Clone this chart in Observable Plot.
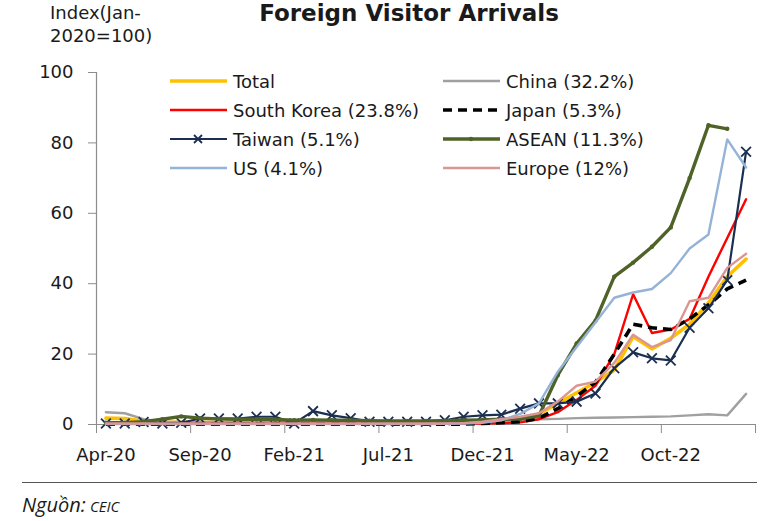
<!DOCTYPE html>
<html><head><meta charset="utf-8">
<script src="https://cdn.jsdelivr.net/npm/d3@7"></script>
<script src="https://cdn.jsdelivr.net/npm/@observablehq/plot@0.6"></script>
<style>
body{margin:0;background:#fff;}
#wrap{position:relative;width:765px;height:521px;overflow:hidden;font-family:"DejaVu Sans",sans-serif;color:#1a1a1a;background:#fff;}
#title{position:absolute;left:0;width:818px;top:0px;text-align:center;font-weight:bold;font-size:23px;line-height:26px;}
#ylab{position:absolute;left:50px;top:1px;font-size:18px;line-height:23px;}
#chart{position:absolute;left:0;top:0;}
#legend{position:absolute;left:0;top:0;}
.li{position:absolute;height:24px;display:flex;align-items:center;font-size:18px;white-space:nowrap;}
.li svg{display:block;margin-right:6px;}
#rule{position:absolute;left:22px;width:735px;top:482px;border-top:1px solid #555;}
#cap{position:absolute;left:22px;top:491px;font-family:"Open Sans",sans-serif;font-style:italic;}
#cap .n{font-size:20px;}
#cap .c{font-size:15px;}
</style></head><body>
<div id="wrap">
  <div id="title">Foreign Visitor Arrivals</div>
  <div id="ylab">Index(Jan-<br>2020=100)</div>
  <div id="chart"></div>
  <div id="legend"></div>
  <div id="rule"></div>
  <div id="cap"><span class="n">Nguồn:</span> <span class="c">CEIC</span></div>
</div>
<script>
// ---- data ----
const months = ["Apr-20","May-20","Jun-20","Jul-20","Aug-20","Sep-20","Oct-20","Nov-20","Dec-20",
  "Jan-21","Feb-21","Mar-21","Apr-21","May-21","Jun-21","Jul-21","Aug-21","Sep-21","Oct-21","Nov-21","Dec-21",
  "Jan-22","Feb-22","Mar-22","Apr-22","May-22","Jun-22","Jul-22","Aug-22","Sep-22","Oct-22","Nov-22","Dec-22",
  "Jan-23","Feb-23"];
const xTickLabels = ["Apr-20","Sep-20","Feb-21","Jul-21","Dec-21","May-22","Oct-22"];
const yTicks = [0,20,40,60,80,100];
const seriesNames = ["Total","China (32.2%)","South Korea (23.8%)","Japan (5.3%)","Taiwan (5.1%)","ASEAN (11.3%)","US (4.1%)","Europe (12%)"];
const total  = [1.8,1.7,1.0,0.6,0.6,0.6,0.6,0.6,0.6,0.6,0.5,0.6,0.6,0.6,0.5,0.5,0.5,0.5,0.6,0.6,0.8,1.0,1.5,3.0,6.0,9.0,12.0,15.5,25.0,21.5,24.5,28.5,34.5,42.0,47.0];
const china  = [3.5,3.2,1.5,0.8,0.7,0.7,0.7,0.7,0.7,0.7,0.6,0.6,0.6,0.6,0.6,0.6,0.6,0.6,0.7,0.8,1.0,1.2,1.3,1.5,1.6,1.8,1.9,2.0,2.1,2.2,2.3,2.6,2.9,2.6,8.7];
const korea  = [0.2,0.2,0.2,0.2,0.2,0.2,0.2,0.2,0.2,0.2,0.2,0.2,0.2,0.2,0.2,0.2,0.2,0.2,0.2,0.2,0.3,0.4,0.6,1.5,3.5,7.0,11.0,20.0,37.0,26.0,27.0,30.0,42.0,53.0,64.0];
const japan  = [0.1,0.1,0.1,0.1,0.1,0.1,0.1,0.1,0.1,0.1,0.1,0.1,0.1,0.1,0.1,0.1,0.1,0.1,0.1,0.1,0.3,0.5,0.8,1.8,4.5,8.0,12.0,20.0,28.5,27.5,27.0,30.0,34.0,38.5,41.0];
const taiwan = [0.3,0.3,0.7,0.3,0.5,1.7,1.7,1.7,2.2,2.2,0.3,3.8,2.6,1.8,0.8,0.8,0.8,0.8,1.2,2.2,2.6,2.8,4.5,6.0,6.0,6.5,8.8,16.0,20.5,18.8,18.2,27.5,33.0,41.0,77.5];
const asean  = [0.5,0.5,0.8,1.5,2.3,1.8,1.6,1.5,1.5,1.4,1.2,1.3,1.2,1.2,1.1,1.0,1.0,1.0,1.1,1.2,1.3,1.5,1.6,2.5,14.0,23.0,29.5,42.0,46.0,50.5,56.0,70.0,85.0,84.0,null];
const us     = [0.1,0.1,0.1,0.1,0.1,0.1,0.1,0.1,0.1,0.1,0.1,0.1,0.1,0.1,0.1,0.1,0.1,0.1,0.2,0.3,0.5,1.2,3.0,6.0,15.0,22.0,29.0,36.0,37.5,38.5,43.0,50.0,54.0,81.0,73.0];
const europe = [0.3,0.3,0.3,0.3,0.3,0.3,0.3,0.3,0.3,0.3,0.3,0.3,0.3,0.3,0.3,0.3,0.3,0.3,0.3,0.4,0.8,1.5,2.2,3.2,6.5,11.0,12.2,17.5,25.5,22.0,24.0,35.0,36.0,44.5,48.5];
const seriesValues = [total, china, korea, japan, taiwan, asean, us, europe];

// ---- styles ----
const styles = [
  {stroke:"#FFC000", w:3.6},
  {stroke:"#A0A0A0", w:2.4},
  {stroke:"#FF0000", w:2.4},
  {stroke:"#000000", w:3.6, dash:"9,6"},
  {stroke:"#1B2F52", w:2.2, marker:"times"},
  {stroke:"#4F6228", w:3.4, marker:"dot"},
  {stroke:"#95B3D7", w:2.4},
  {stroke:"#D99694", w:2.4}
];
const grey = "#8c8c8c";

const rows = [];
seriesValues.forEach((vals, s) => vals.forEach((v, i) => rows.push({s, i, month: months[i], value: v})));

const marks = [];
marks.push(Plot.ruleY([0], {stroke: grey, strokeWidth: 1.2}));
marks.push(Plot.ruleX([-0.5], {stroke: grey, strokeWidth: 1.2}));
marks.push(Plot.axisY(yTicks, {label: null, tickSize: 8, tickPadding: 15, stroke: grey, fill: "#1a1a1a", fontSize: 18}));
const bounds = d3.range(-0.5, months.length, 5);
marks.push(Plot.axisX(bounds, {label: null, tickSize: 9, tickFormat: () => "", stroke: grey}));
marks.push(Plot.axisX(xTickLabels.map(l => months.indexOf(l)), {label: null, tickSize: 0, tickPadding: 24, tickFormat: i => months[i], fill: "#1a1a1a", fontSize: 18}));

styles.forEach((st, s) => {
  const data = rows.filter(d => d.s === s);
  marks.push(Plot.line(data, {x: "i", y: "value", stroke: st.stroke, strokeWidth: st.w,
    strokeDasharray: st.dash, strokeLinejoin: "round", strokeLinecap: st.dash ? "butt" : "round"}));
  if (st.marker === "times") {
    marks.push(Plot.dot(data, {x: "i", y: "value", symbol: "times", r: 4.5, stroke: st.stroke, strokeWidth: 1.8}));
  } else if (st.marker === "dot") {
    marks.push(Plot.dot(data.filter(d => d.value != null), {x: "i", y: "value", r: 2.2, fill: st.stroke, stroke: "none"}));
  }
});

const chart = Plot.plot({
  width: 765, height: 470,
  marginLeft: 96, marginRight: 10, marginTop: 72, marginBottom: 46,
  x: {domain: [-0.5, months.length - 0.5], axis: null},
  y: {domain: [0, 100], axis: null},
  style: {fontFamily: "DejaVu Sans, sans-serif", fontSize: "18px", background: "transparent", overflow: "visible", color: "#1a1a1a"},
  marks
});
document.getElementById("chart").appendChild(chart);

// ---- legend ----
const legend = document.getElementById("legend");
const colX = [170, 443], rowY0 = 81, rowDY = 29;
seriesNames.forEach((name, s) => {
  const st = styles[s];
  const col = s % 2, row = Math.floor(s / 2);
  const div = document.createElement("div");
  div.className = "li";
  div.style.left = colX[col] + "px";
  div.style.top = (rowY0 + row * rowDY - 12) + "px";
  let marker = "";
  if (st.marker === "times") marker = `<path d="M24,8 L32,16 M32,8 L24,16" stroke="${st.stroke}" stroke-width="1.8"/>`;
  if (st.marker === "dot") marker = `<circle cx="28" cy="12" r="2.2" fill="${st.stroke}"/>`;
  div.innerHTML = `<svg width="57" height="24"><line x1="0" x2="57" y1="12" y2="12" stroke="${st.stroke}" stroke-width="${st.w}" ${st.dash ? `stroke-dasharray="${st.dash}"` : ""}/>${marker}</svg><span>${name}</span>`;
  legend.appendChild(div);
});
</script>
</body></html>
